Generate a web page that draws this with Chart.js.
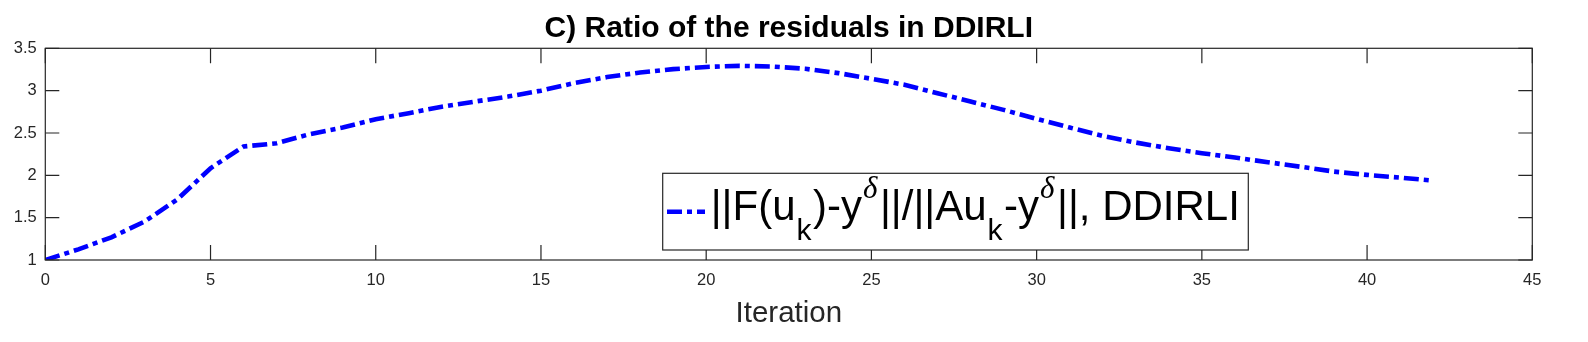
<!DOCTYPE html>
<html><head><meta charset="utf-8">
<script src="https://cdn.jsdelivr.net/npm/chart.js@4.4.1/dist/chart.umd.min.js"></script>
<style>html,body{margin:0;padding:0;background:#fff;overflow:hidden}#wrap{width:1588px;height:342px;position:relative}</style>
</head><body><div id="wrap"><canvas id="c" width="1588" height="342"></canvas></div>
<script>
// ---- data ----
const iterations = [0,1,2,3,4,5,6,7,8,9,10,11,12,13,14,15,16,17,18,19,20,21,22,23,24,25,26,27,28,29,30,31,32,33,34,35,36,37,38,39,40,41,42];
const ratioValues = [1.000,1.126,1.268,1.453,1.717,2.084,2.340,2.379,2.486,2.564,2.663,2.734,2.810,2.871,2.930,3.000,3.089,3.160,3.214,3.254,3.280,3.293,3.285,3.258,3.207,3.140,3.070,2.970,2.871,2.773,2.667,2.564,2.466,2.387,2.320,2.261,2.210,2.155,2.100,2.044,2.005,1.973,1.937];
const xTickValues = [0,5,10,15,20,25,30,35,40,45];
const yTickValues = [1,1.5,2,2.5,3,3.5];
const xTickLabels = ['0','5','10','15','20','25','30','35','40','45'];
const yTickLabels = ['1','1.5','2','2.5','3','3.5'];
const titleText = 'C) Ratio of the residuals in DDIRLI';
const xAxisLabel = 'Iteration';
const legendParts = [
  ['||F(u','n'],['k','sub'],[')-y','n'],['\u03B4','sup'],['||/||Au','n'],['k','sub'],['-y','n'],['\u03B4','sup'],['||, DDIRLI','n']
];

const AXC = '#262626';
const FONT = '"Liberation Sans", Arial, Helvetica, sans-serif';

const decor = {
  id: 'decor',
  afterDraw(chart) {
    const ctx = chart.ctx, a = chart.chartArea;
    const xs = chart.scales.x, ys = chart.scales.y;
    ctx.save();
    // box
    ctx.strokeStyle = AXC; ctx.lineWidth = 1.2;
    ctx.strokeRect(a.left, a.top, a.right - a.left, a.bottom - a.top);
    ctx.beginPath();
    xTickValues.forEach(v => {
      const p = xs.getPixelForValue(v);
      ctx.moveTo(p, a.bottom); ctx.lineTo(p, a.bottom - 15);
      ctx.moveTo(p, a.top); ctx.lineTo(p, a.top + 15);
    });
    yTickValues.forEach(v => {
      const p = ys.getPixelForValue(v);
      ctx.moveTo(a.left, p); ctx.lineTo(a.left + 14, p);
      ctx.moveTo(a.right, p); ctx.lineTo(a.right - 14, p);
    });
    ctx.stroke();
    const cx = (a.left + a.right) / 2;
    // title
    ctx.fillStyle = '#000';
    ctx.font = 'bold 30px ' + FONT;
    ctx.textAlign = 'center'; ctx.textBaseline = 'alphabetic';
    ctx.fillText(titleText, cx, a.top - 11.6);
    // x label
    ctx.fillStyle = AXC;
    ctx.font = '29.5px ' + FONT;
    ctx.fillText(xAxisLabel, cx, 321.7);
    // legend
    const L = {x1: 662.7, y1: 173.3, x2: 1248.3, y2: 250};
    ctx.fillStyle = '#fff';
    ctx.fillRect(L.x1, L.y1, L.x2 - L.x1, L.y2 - L.y1);
    ctx.strokeStyle = AXC; ctx.lineWidth = 1.2;
    ctx.strokeRect(L.x1, L.y1, L.x2 - L.x1, L.y2 - L.y1);
    ctx.beginPath();
    ctx.strokeStyle = '#0000FF'; ctx.lineWidth = 4.5; ctx.setLineDash([15,5,5,5]);
    ctx.moveTo(667, 211.7); ctx.lineTo(705, 211.7); ctx.stroke();
    ctx.setLineDash([]);
    ctx.fillStyle = '#000'; ctx.textAlign = 'left';
    let x = 710.7; const base = 220;
    legendParts.forEach(([t, k]) => {
      if (k === 'n') { ctx.font = '42px ' + FONT; ctx.fillText(t, x, base); x += ctx.measureText(t).width; }
      else if (k === 'sub') { x += 1; ctx.font = '30px ' + FONT; ctx.fillText(t, x, base + 20); x += ctx.measureText(t).width + 1.5; }
      else { x += 1; ctx.font = 'italic 31px "Liberation Serif", "Times New Roman", serif'; ctx.fillText(t, x, base - 22); x += ctx.measureText(t).width + 2.5; }
    });
    ctx.restore();
  }
};

new Chart(document.getElementById('c'), {
  type: 'line',
  data: {
    datasets: [{
      data: iterations.map((v, i) => ({x: v, y: ratioValues[i]})),
      borderColor: '#0000FF', borderWidth: 4.6, borderDash: [15,5,5,5],
      pointRadius: 0, tension: 0, fill: false
    }]
  },
  options: {
    responsive: false, animation: false, devicePixelRatio: 1,
    layout: {padding: {left: 0, right: 55.7, top: 48.3, bottom: 0}},
    plugins: {legend: {display: false}, title: {display: false}, tooltip: {enabled: false}},
    scales: {
      x: {
        type: 'linear', min: 0, max: 45,
        afterBuildTicks: s => { s.ticks = xTickValues.map(v => ({value: v})); },
        afterFit: s => { s.height = 82; },
        grid: {display: false}, border: {display: false},
        ticks: {color: AXC, font: {family: FONT, size: 16.5}, padding: 3, maxRotation: 0,
          callback: (v) => xTickLabels[xTickValues.indexOf(v)]}
      },
      y: {
        type: 'linear', min: 1, max: 3.5,
        afterBuildTicks: s => { s.ticks = yTickValues.map(v => ({value: v})); },
        afterFit: s => { s.width = 45.3; },
        grid: {display: false}, border: {display: false},
        ticks: {color: AXC, font: {family: FONT, size: 16.5}, padding: 0.5,
          callback: (v) => yTickLabels[yTickValues.indexOf(v)]}
      }
    }
  },
  plugins: [decor]
});
</script></body></html>
